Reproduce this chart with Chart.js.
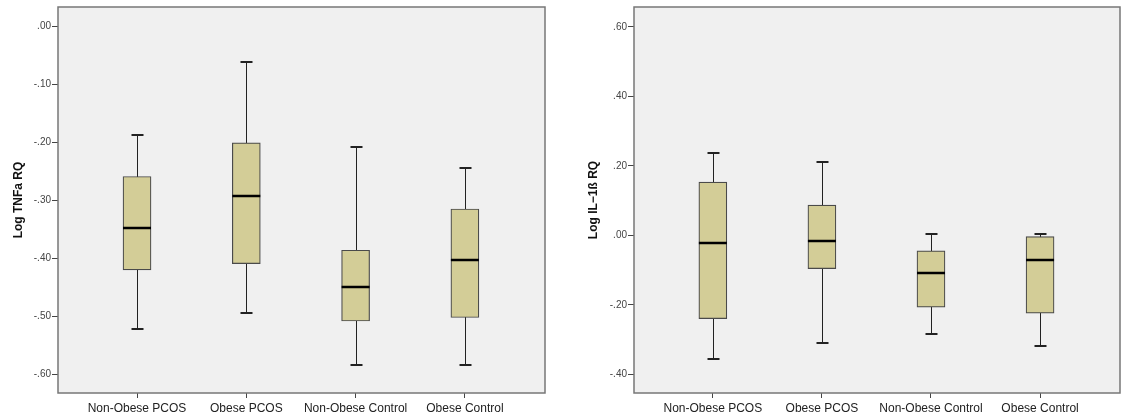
<!DOCTYPE html>
<html>
<head>
<meta charset="utf-8">
<script src="https://cdn.jsdelivr.net/npm/chart.js@4/dist/chart.umd.min.js"></script>
<style>
	body { margin: 0; background: #fff; }
	#wrap { position: relative; width: 1125px; height: 420px; }
	#c1 { position: absolute; left: 0; top: 0; }
	#c2 { position: absolute; left: 560px; top: 0; }
</style>
</head>
<body>
<div id="wrap">
	<canvas id="c1" width="560" height="420"></canvas>
	<canvas id="c2" width="565" height="420"></canvas>
</div>
<script>
var groups = ['Non-Obese PCOS', 'Obese PCOS', 'Non-Obese Control', 'Obese Control'];

/* Log TNFa RQ */
var tnfMin    = [-0.522, -0.494, -0.584, -0.584];
var tnfQ1     = [-0.420, -0.409, -0.508, -0.502];
var tnfMedian = [-0.347, -0.293, -0.449, -0.403];
var tnfQ3     = [-0.259, -0.201, -0.386, -0.315];
var tnfMax    = [-0.187, -0.061, -0.208, -0.244];
var tnfTicks  = [0, -0.1, -0.2, -0.3, -0.4, -0.5, -0.6];

/* Log IL-1ß RQ */
var ilMin    = [-0.357, -0.309, -0.283, -0.319];
var ilQ1     = [-0.240, -0.096, -0.207, -0.224];
var ilMedian = [-0.022, -0.016, -0.108, -0.070];
var ilQ3     = [0.153, 0.087, -0.045, -0.004];
var ilMax    = [0.236, 0.210, 0.005, 0.005];
var ilTicks  = [0.6, 0.4, 0.2, 0, -0.2, -0.4];

var groupPos = [0, 1, 2, 3];

function fmtTick(v) {
	return v.toFixed(2).replace('0.', '.');
}

/* frame, whiskers and medians */
var boxPlugin = {
	id: 'boxParts',
	beforeDatasetsDraw: function (chart) {
		var ctx = chart.ctx, a = chart.chartArea;
		var xs = chart.scales.x, ys = chart.scales.y;
		var st = chart.options.plugins.boxParts;
		ctx.save();
		ctx.fillStyle = '#f0f0f0';
		ctx.fillRect(a.left, a.top, a.right - a.left, a.bottom - a.top);
		ctx.strokeStyle = '#222';
		ctx.lineWidth = 1;
		for (var i = 0; i < st.lo.length; i++) {
			var x = Math.round(xs.getPixelForValue(groupPos[i])) + 0.5;
			var yLo = Math.round(ys.getPixelForValue(st.lo[i])) + 0.5;
			var yHi = Math.round(ys.getPixelForValue(st.hi[i])) + 0.5;
			ctx.beginPath();
			ctx.moveTo(x, yLo); ctx.lineTo(x, yHi);
			ctx.stroke();
			ctx.lineWidth = 2;
			ctx.beginPath();
			ctx.moveTo(x - 6, yLo - 0.5); ctx.lineTo(x + 6, yLo - 0.5);
			ctx.moveTo(x - 6, yHi - 0.5); ctx.lineTo(x + 6, yHi - 0.5);
			ctx.stroke();
			ctx.lineWidth = 1;
		}
		ctx.restore();
	},
	afterDatasetsDraw: function (chart) {
		var ctx = chart.ctx, a = chart.chartArea;
		var xs = chart.scales.x, ys = chart.scales.y;
		var st = chart.options.plugins.boxParts;
		ctx.save();
		ctx.strokeStyle = '#000';
		ctx.lineWidth = 2.5;
		for (var i = 0; i < st.mid.length; i++) {
			var x = xs.getPixelForValue(groupPos[i]);
			var y = Math.round(ys.getPixelForValue(st.mid[i]));
			ctx.beginPath();
			ctx.moveTo(x - 14, y); ctx.lineTo(x + 14, y);
			ctx.stroke();
		}
		ctx.strokeStyle = '#777';
		ctx.lineWidth = 1.5;
		ctx.strokeRect(a.left, a.top, a.right - a.left, a.bottom - a.top);
		ctx.restore();
	}
};

function makeBox(id, title, titlePad, axisW, padRight, yMin, yMax, ticks, lo, q1, mid, q3, hi) {
	var boxes = groupPos.map(function (p, i) {
		return { x: p, y: [q1[i], q3[i]] };
	});
	return new Chart(document.getElementById(id), {
		type: 'bar',
		data: {
			datasets: [{
				data: boxes,
				backgroundColor: '#d3cd97',
				borderColor: '#4a4a4a',
				borderWidth: 1.2,
				borderSkipped: false,
				barThickness: 28
			}]
		},
		plugins: [boxPlugin],
		options: {
			responsive: false,
			animation: false,
			layout: { padding: { top: 5, right: padRight, left: 0, bottom: 0 } },
			scales: {
				x: {
					type: 'linear',
					offset: false,
					min: -0.723,
					max: 3.733,
					afterBuildTicks: function (s) { s.ticks = groupPos.map(function (v) { return { value: v }; }); },
					afterFit: function (s) { s.height = 27; },
					ticks: {
						color: '#222',
						font: { family: 'Liberation Sans, Arial', size: 12 },
						padding: 3,
						maxRotation: 0,
						autoSkip: false,
						callback: function (v) { return groups[v]; }
					},
					grid: { offset: false, drawOnChartArea: false, drawTicks: true, tickLength: 5, color: '#444' },
					border: { display: false }
				},
				y: {
					min: yMin,
					max: yMax,
					afterBuildTicks: function (s) { s.ticks = ticks.map(function (v) { return { value: v }; }); },
					afterFit: function (s) { s.width = axisW; },
					ticks: {
						color: '#444',
						font: { family: 'Liberation Sans, Arial', size: 10 },
						padding: 1,
						callback: function (v) { return fmtTick(v); }
					},
					grid: { drawOnChartArea: false, drawTicks: true, tickLength: 6, color: '#444' },
					border: { display: false },
					title: {
						display: true,
						text: title,
						color: '#111',
						font: { family: 'Liberation Sans, Arial', size: 12, weight: 'bold' },
						padding: { top: titlePad, bottom: 0 }
					}
				}
			},
			plugins: {
				legend: { display: false },
				tooltip: { enabled: false },
				boxParts: { lo: lo, mid: mid, hi: hi }
			}
		}
	});
}

makeBox('c1', 'Log TNFa RQ', 11, 58, 15, -0.632, 0.033, tnfTicks,
	tnfMin, tnfQ1, tnfMedian, tnfQ3, tnfMax);
makeBox('c2', 'Log IL\u22121\u00df RQ', 26, 74, 5, -0.454, 0.657, ilTicks,
	ilMin, ilQ1, ilMedian, ilQ3, ilMax);
</script>
</body>
</html>
